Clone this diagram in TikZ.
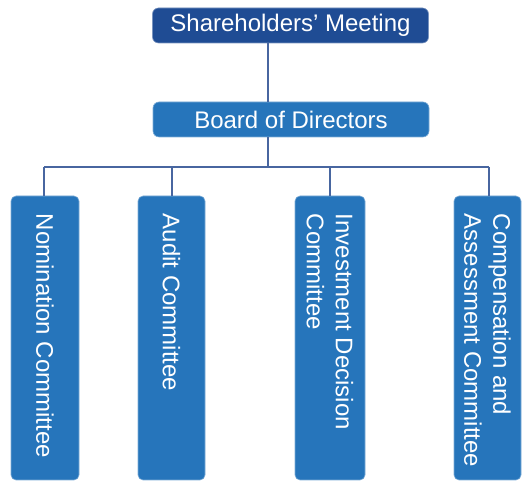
\documentclass[tikz,border=0pt]{standalone}
\usepackage{fontspec}
\setmainfont{Liberation Sans}
\definecolor{navy}{RGB}{31,76,148}
\definecolor{midblue}{RGB}{38,117,187}
\definecolor{linec}{RGB}{72,102,160}
\begin{document}
\begin{tikzpicture}[x=1pt,y=1pt,
  topbox/.style={fill=navy, draw=navy!60!white, line width=0.6pt, rounded corners=6pt, text=white,
    minimum width=276pt, minimum height=35pt, inner sep=0pt, font=\fontsize{24}{29}\selectfont},
  boardbox/.style={topbox, fill=midblue, draw=midblue!60!white},
  combox/.style={fill=midblue, draw=midblue!60!white, line width=0.6pt, rounded corners=5pt,
    minimum width=68pt, minimum height=284pt, inner sep=0pt},
  comtext/.style={text=white, rotate=-90, anchor=west, inner sep=0pt, align=left,
    font=\fontsize{24}{29}\selectfont},
  conn/.style={draw=linec, line width=1.3pt}]
\useasboundingbox (0,0) rectangle (522,481);
\node[topbox] (sh) at (290.5,455.5) {Shareholders’ Meeting};
\node[boardbox] (bd) at (291,361.5) {Board of Directors};
\node[combox] (c1) at (45,143) {};
\node[combox, minimum width=67pt] (c2) at (171.5,143) {};
\node[combox, minimum width=70pt] (c3) at (330,143) {};
\node[combox, minimum width=67pt] (c4) at (487.5,143) {};
\node[comtext] (t1) at ([yshift=-18pt]c1.north) {Nomination Committee};
\node[comtext] (t2) at ([yshift=-18pt]c2.north) {Audit Committee};
\node[comtext] (t3) at ([yshift=-18pt]c3.north) {Investment Decision\\Committee};
\node[comtext] (t4) at ([yshift=-18pt]c4.north) {Compensation and\\Assessment Committee};
\coordinate (j) at (268,314);
\coordinate (jl) at (44,314);
\coordinate (j2) at (172,314);
\coordinate (j3) at (330,314);
\coordinate (jr) at (489,314);
\draw[conn] (sh.south -| j) -- (bd.north -| j);
\draw[conn] (bd.south -| j) -- (j);
\draw[conn] (jl) -- (jr);
\draw[conn] (jl) -- (jl |- c1.north);
\draw[conn] (j2) -- (j2 |- c2.north);
\draw[conn] (j3) -- (j3 |- c3.north);
\draw[conn] (jr) -- (jr |- c4.north);
\end{tikzpicture}
\end{document}
